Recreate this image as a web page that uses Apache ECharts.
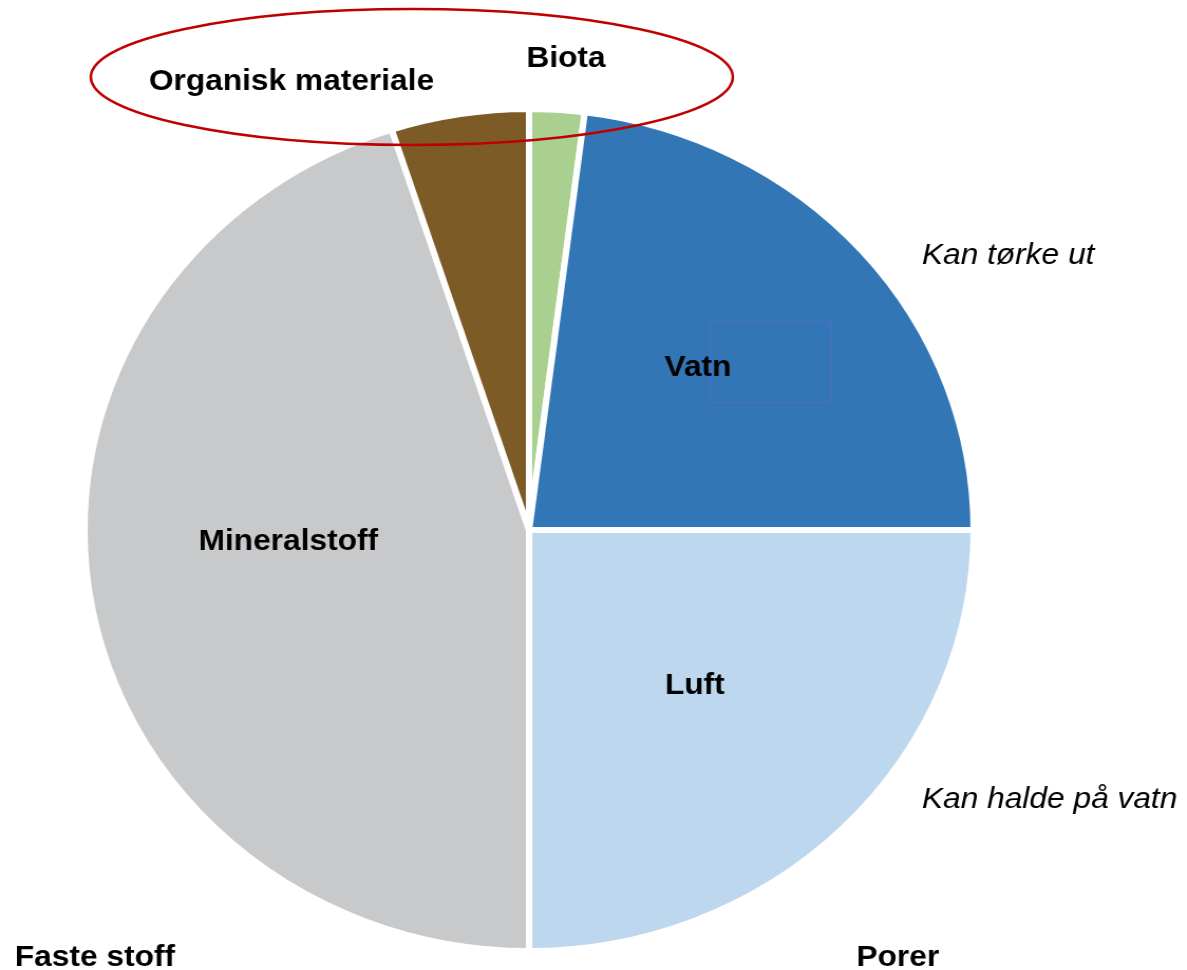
<!DOCTYPE html>
<html>
<head>
<meta charset="utf-8">
<title>Jordas samansetjing</title>
<script src="https://cdn.jsdelivr.net/npm/echarts@6/dist/echarts.min.js"></script>
<style>
  html, body { margin: 0; padding: 0; background: #fff; overflow: hidden; }
  /* biletet er litt strekt på breidda, så vi teiknar smalare og strekkjer */
  #chart { width: 1124px; height: 970px; transform: scaleX(1.056); transform-origin: 0 0; }
</style>
</head>
<body>
<div id="chart"></div>
<script>
// delar av jorda, med klokka frå toppen
var parts = ['Biota', 'Vatn', 'Luft', 'Mineralstoff', 'Organisk materiale']
var shares = [2, 23, 25, 45, 5]
var colors = ['#a9d08e', '#3276b5', '#bdd7ee', '#c8c9cb', '#7d5b27']

// kvar namna står
var labelPos = [[536, 59], [661, 368], [658, 686], [273, 542], [276, 82]]
var notes = ['Kan tørke ut', 'Kan halde på vatn']
var groups = ['Faste stoff', 'Porer']

var chart = echarts.init(document.getElementById('chart'))

var FONT = '"Liberation Sans", Arial, sans-serif'

var graphics = []
parts.forEach(function (name, i) {
    graphics.push({
        type: 'text',
        x: labelPos[i][0], y: labelPos[i][1], z: 110,
        style: {
            text: name, fill: '#000', font: 'bold 30px ' + FONT,
            textAlign: 'center', textVerticalAlign: 'middle'
        }
    })
})
graphics.push(
    { type: 'text', x: 873, y: 256, z: 110,
      style: { text: notes[0], fill: '#000', font: 'italic 30px ' + FONT, textVerticalAlign: 'middle' } },
    { type: 'text', x: 873, y: 800, z: 110,
      style: { text: notes[1], fill: '#000', font: 'italic 30px ' + FONT, textVerticalAlign: 'middle' } },
    { type: 'text', x: 14, y: 958, z: 110,
      style: { text: groups[0], fill: '#000', font: 'bold 30px ' + FONT, textVerticalAlign: 'middle' } },
    { type: 'text', x: 811, y: 958, z: 110,
      style: { text: groups[1], fill: '#000', font: 'bold 30px ' + FONT, textVerticalAlign: 'middle' } },
    // raud ring rundt dei organiske delane
    { type: 'ellipse', z: 100,
      shape: { cx: 390, cy: 77, rx: 304, ry: 68 },
      style: { fill: 'none', stroke: '#c00000', lineWidth: 2.5 } },
    // den tynne ramma inne i Vatn
    { type: 'rect', z: 100,
      shape: { x: 673, y: 322, width: 114, height: 81 },
      style: { fill: 'none', stroke: '#4472c4', lineWidth: 2, opacity: 0.8 } }
)

var option = {
    backgroundColor: '#fff',
    animation: false,
    graphic: graphics,
    series: [{
        type: 'pie',
        center: [501, 530],
        radius: 421,
        startAngle: 90,
        clockwise: true,
        label: { show: false },
        labelLine: { show: false },
        emphasis: { disabled: true },
        itemStyle: { borderColor: '#fff', borderWidth: 6 },
        data: parts.map(function (name, i) {
            return { name: name, value: shares[i], itemStyle: { color: colors[i] } }
        })
    }]
}
chart.setOption(option)
</script>
</body>
</html>
